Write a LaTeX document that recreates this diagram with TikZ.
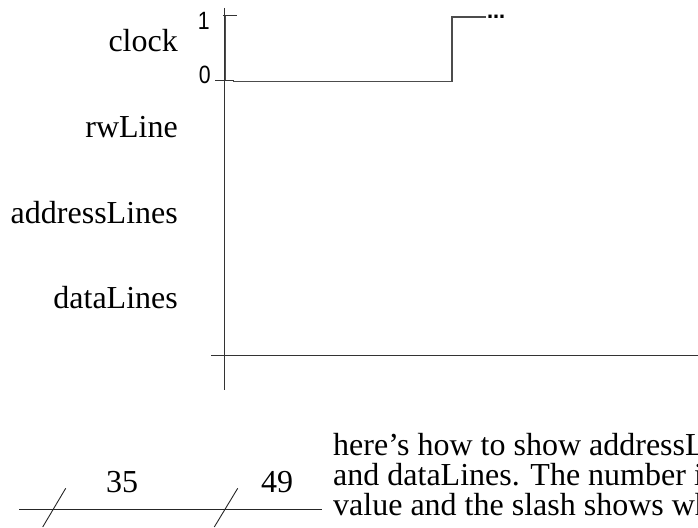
\documentclass[tikz,border=0pt]{standalone}
\usepackage{fontspec}
\setmainfont{Liberation Serif}
\newfontfamily\axfont[FakeStretch=0.85]{Liberation Sans}
\newfontfamily\dotfont{DejaVu Sans}
\begin{document}
\begin{tikzpicture}[x=1pt,y=-1pt,
  lbl/.style={anchor=base east,inner sep=0pt,font=\fontsize{32}{32}\selectfont},
  axlbl/.style={anchor=base east,inner sep=0pt,font=\axfont\fontsize{25}{25}\selectfont},
  num/.style={anchor=base west,inner sep=0pt,font=\fontsize{32}{32}\selectfont},
  body/.style={anchor=base west,inner sep=0pt,font=\fontsize{32}{32}\selectfont},
  axis/.style={draw=black!80,line width=1pt},
  sig/.style={draw=black!70,line width=1.4pt},
  thin/.style={draw=black!85,line width=0.9pt}]
\useasboundingbox (0,0) rectangle (698,527);
\clip (0,0) rectangle (698,527);
% labels
\node[lbl] (clk) at (178,52) {clock};
\node[lbl] (rw) at (178,137) {rwLine};
\node[lbl] (addr) at (178,223) {addressLines};
\node[lbl] (data) at (178,308) {dataLines};
% axes
\coordinate (vtop) at (224.5,8);
\coordinate (vbot) at (224.5,390);
\coordinate (hl) at (211,355);
\coordinate (hr) at (698,355);
\draw[axis] (vtop) -- (vbot);
\draw[axis] (hl) -- (hr);
\coordinate (t1a) at (223,15.7);
\coordinate (t1b) at (237,15.7);
\coordinate (t0a) at (215,80);
\coordinate (t0b) at (234,80);
\draw[axis] (t1a) -- (t1b);
\draw[axis] (t0a) -- (t0b);
\node[axlbl] (one) at (210,30) {1};
\node[axlbl] (zero) at (211,83) {0};
% clock signal
\coordinate (c0) at (225.5,16);
\coordinate (c1) at (225.5,80);
\draw[sig] (c0) -- (c1);
\coordinate (c2) at (233,81.5);
\coordinate (c3) at (452,81.5);
\coordinate (c4) at (452,17);
\coordinate (c5) at (486,17);
\draw[sig] (c2) -- (c3) -- (c4) -- (c5);
\node[anchor=base west,inner sep=0pt,font=\dotfont\bfseries\fontsize{18}{18}\selectfont] (dots) at (487,19) {…};
% bus notation example
\coordinate (bl) at (19,509);
\coordinate (br) at (322,509);
\draw[thin] (bl) -- (br);
\coordinate (s1a) at (42.7,527);
\coordinate (s1b) at (65.7,488.3);
\coordinate (s2a) at (214.3,527);
\coordinate (s2b) at (237.7,488.3);
\draw[thin] (s1a) -- (s1b);
\draw[thin] (s2a) -- (s2b);
\node[num] (n35) at (106,492) {35};
\node[num] (n49) at (261,492) {49};
% explanation text
\node[body] (t1) at (333,455) {here’s how to show addressL};
\node[body] (t2) at (333,485) {and dataLines. The number i};
\node[body] (t3) at (333,515) {value and the slash shows wh};
\end{tikzpicture}
\end{document}
